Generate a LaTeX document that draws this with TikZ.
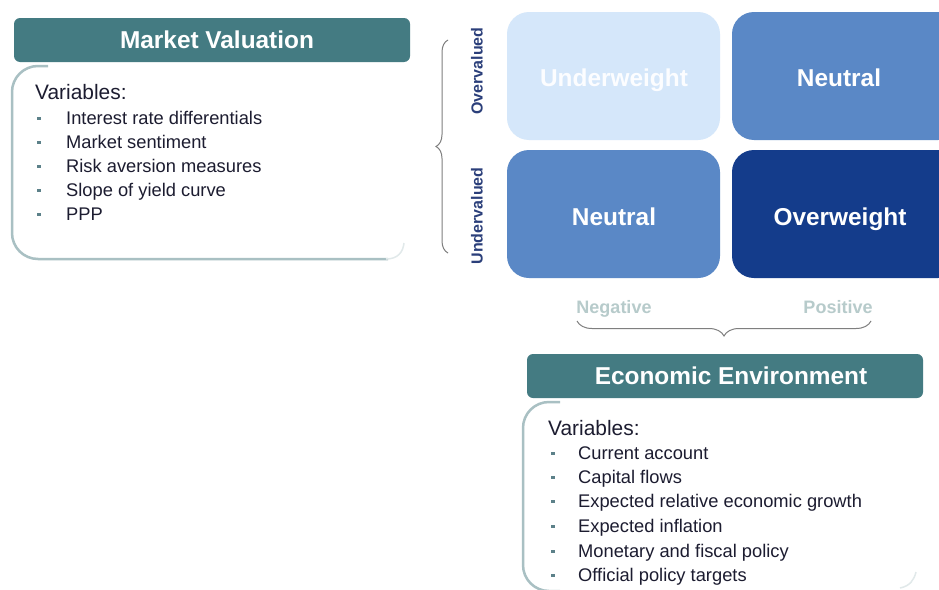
\documentclass[tikz,border=0pt]{standalone}
\usepackage{fontspec}
\setmainfont{Liberation Sans}
\usetikzlibrary{decorations.pathreplacing}
\definecolor{headteal}{HTML}{447B82}
\definecolor{framegray}{HTML}{A9C0C3}
\definecolor{paleblue}{HTML}{D5E7FA}
\definecolor{midblue}{HTML}{5A88C6}
\definecolor{deepblue}{HTML}{143C8B}
\definecolor{bodyink}{HTML}{1C1C30}
\definecolor{axisink}{HTML}{2B3F7A}
\definecolor{softlabel}{HTML}{B7CBCB}
\definecolor{bulletc}{HTML}{5C8189}
\definecolor{bracegray}{HTML}{7F7F7F}
\begin{document}
\begin{tikzpicture}[x=1pt,y=-1pt,
  header/.style={fill=headteal,rounded corners=6pt,draw=none},
  headtext/.style={anchor=base,text=white,font=\fontsize{24.4}{28}\selectfont\bfseries,inner sep=0pt},
  cell/.style={rounded corners=22pt,draw=none},
  celltext/.style={anchor=base,text=white,font=\fontsize{24.4}{28}\selectfont\bfseries,inner sep=0pt},
  frameline/.style={draw=framegray,line width=2.5pt},
  fadeline/.style={draw=framegray!35,line width=1.5pt},
  vartitle/.style={anchor=base west,text=bodyink,font=\fontsize{20.9}{24}\selectfont,inner sep=0pt},
  varitem/.style={anchor=base west,text=bodyink,font=\fontsize{18.3}{22}\selectfont,inner sep=0pt},
  bulletmark/.style={fill=bulletc,draw=none,minimum width=3.5pt,minimum height=3pt,inner sep=0pt},
  axislabel/.style={text=axisink,font=\fontsize{16}{20}\selectfont\bfseries,inner sep=0pt,rotate=90},
  dirlabel/.style={anchor=base,text=softlabel,font=\fontsize{18}{21}\selectfont\bfseries,inner sep=0pt},
  bracestyle/.style={draw=bracegray,line width=1pt,decorate}
]
\clip (0,0) rectangle (939,589);
\fill[white] (0,0) rectangle (939,589);

% ---- Market valuation panel
\fill[header] (14,18) rectangle (410,62);
\node[headtext] (mvhead) at (217,48.5) {Market Valuation};
\draw[frameline] (48,66) [rounded corners=26pt] -- (12,66) -- (12,259) -- (388,259);
\draw[fadeline] (386,259) .. controls (398,259) and (403,252) .. (404,243);
\node[vartitle] (mvvars) at (35,99.5) {Variables:};
\foreach \yy/\txt [count=\i] in {124.5/Interest rate differentials,148.5/Market sentiment,172.5/Risk aversion measures,196.5/Slope of yield curve,220.5/PPP}{
  \node[bulletmark] (mvb\i) at (39,\yy-6.5) {};
  \node[varitem] (mvi\i) at (66,\yy) {\txt};
}

% ---- 2x2 matrix
\fill[cell,paleblue] (507,12) rectangle (720,140);
\fill[cell,midblue] (732,12) rectangle (960,140);
\fill[cell,midblue] (507,150) rectangle (720,278);
\fill[cell,deepblue] (732,150) rectangle (960,278);
\node[celltext,text=white!94!paleblue] (uw) at (614,86) {Underweight};
\node[celltext] (n1) at (839,86) {Neutral};
\node[celltext] (n2) at (614,225) {Neutral};
\node[celltext] (ow) at (840,225) {Overweight};

% ---- vertical axis
\node[axislabel] (over) at (477,71) {Overvalued};
\node[axislabel] (under) at (477,216) {Undervalued};
\coordinate (vbtop) at (448,40);
\coordinate (vbbot) at (448,253);
\draw[bracestyle,decoration={brace,amplitude=12pt}] (vbbot) -- (vbtop);

% ---- horizontal axis
\node[dirlabel] (neg) at (614,313.5) {Negative};
\node[dirlabel] (pos) at (838,313.5) {Positive};
\coordinate (hbl) at (577,321);
\coordinate (hbr) at (871,321);
\draw[bracestyle,decoration={brace,amplitude=15pt}] (hbr) -- (hbl);

% ---- Economic environment panel
\fill[header] (527,354) rectangle (923,398);
\node[headtext] (eehead) at (731,384) {Economic Environment};
\draw[frameline] (560,402) [rounded corners=26pt] -- (523,402) -- (523,591) -- (560,591);
\draw[fadeline] (900,588) .. controls (910,586) and (914,580) .. (916,572);
\node[vartitle] (eevars) at (548,435.5) {Variables:};
\foreach \yy/\txt [count=\i] in {459.5/Current account,483.5/Capital flows,507.5/Expected relative economic growth,532.5/Expected inflation,557.5/Monetary and fiscal policy,581.5/Official policy targets}{
  \node[bulletmark] (eeb\i) at (553,\yy-6.5) {};
  \node[varitem] (eei\i) at (578,\yy) {\txt};
}
\end{tikzpicture}
\end{document}
